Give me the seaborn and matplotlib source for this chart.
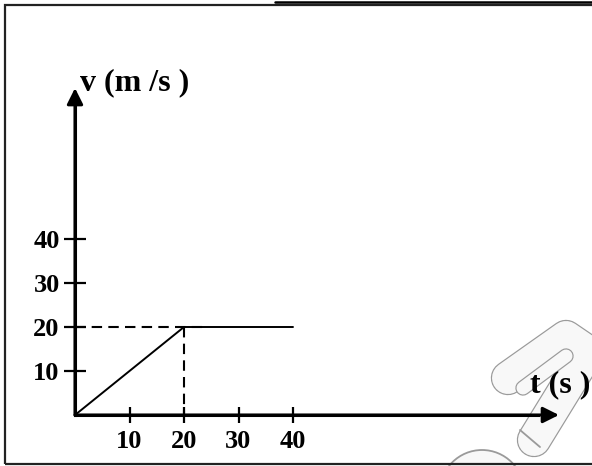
import numpy as np
import pandas as pd
import matplotlib
import matplotlib.pyplot as plt
import seaborn as sns
from matplotlib.lines import Line2D
from matplotlib.patches import Rectangle, Circle

matplotlib.use('agg')

# velocity-time data
t_vals = [0, 20, 40]
v_vals = [0, 20, 20]
x_ticks = [10, 20, 30, 40]
y_ticks = [10, 20, 30, 40]
x_tick_labels = ['10', '20', '30', '40']
y_tick_labels = ['10', '20', '30', '40']
x_label = 't (s )'
y_label = 'v (m /s )'

W, H = 592, 466
sns.set_style('white')
plt.rcParams['font.family'] = ['Liberation Serif', 'DejaVu Serif']
plt.rcParams['font.weight'] = 'bold'
plt.rcParams['text.color'] = 'black'
plt.rcParams['xtick.color'] = 'black'
plt.rcParams['ytick.color'] = 'black'

fig = plt.figure(figsize=(W / 100, H / 100), dpi=100)
ax = fig.add_axes([0, 0, 1, 1])
ax.patch.set_alpha(0)
ax.set_zorder(3)

# pixel scale of the drawing: origin at (75, 415)
sx, sy = 5.45, 4.4
ax.set_xlim(-75 / sx, (W - 75) / sx)
ax.set_ylim(-(H - 415) / sy, 415 / sy)

# pixel coords (from top-left) for decorations
pix = fig.dpi_scale_trans


def pt(x, y):
    return x / 100, (H - y) / 100


def stroke(path, width, z, edge='#9a9a9a', fill='#f8f8f8'):
    xs = [pt(*p)[0] for p in path]
    ys = [pt(*p)[1] for p in path]
    fig.add_artist(Line2D(xs, ys, transform=pix, lw=(width + 2.4) * 0.72, color=edge,
                          solid_capstyle='round', solid_joinstyle='round', zorder=z))
    fig.add_artist(Line2D(xs, ys, transform=pix, lw=width * 0.72, color=fill,
                          solid_capstyle='round', solid_joinstyle='round', zorder=z + 0.05))


# faint watermark (key shape) in the corner
fig.add_artist(Circle(pt(482, 492), 0.42, transform=pix, facecolor='#f8f8f8',
                      edgecolor='#9a9a9a', lw=1.3, zorder=0.1))
stroke([(508, 378), (566, 337), (588, 352), (534, 440)], 32, 0.2)
stroke([(523, 388), (566, 356)], 13, 0.4)
fig.add_artist(Line2D([pt(520, 430)[0], pt(540, 447)[0]], [pt(520, 430)[1], pt(540, 447)[1]],
                      transform=pix, lw=1.3, color='#9a9a9a', zorder=0.5))

# frame
fig.add_artist(Rectangle(pt(5, 464), 6.0, (464 - 5) / 100, transform=pix,
                         fill=False, lw=1.6, edgecolor='#222222', zorder=1))
fig.add_artist(Line2D([2.75, 6.0], [pt(0, 1.8)[1]] * 2, transform=pix,
                      lw=1.8, color='black', zorder=1))

# data line
df = pd.DataFrame({'t': t_vals, 'v': v_vals})
sns.lineplot(data=df, x='t', y='v', ax=ax, color='black', lw=1.4, zorder=3)

# dashed guides
ax.plot([0, t_vals[1] + 3.5], [v_vals[1], v_vals[1]], color='black', lw=1.5,
        ls=(0, (5, 3)), zorder=3)
ax.plot([t_vals[1], t_vals[1]], [v_vals[1], -0.5], color='black', lw=1.5,
        ls=(0, (5, 3)), zorder=3)

# axes through the origin with arrows
for s in ['top', 'right']:
    ax.spines[s].set_visible(False)
ax.spines['left'].set_position(('data', 0))
ax.spines['bottom'].set_position(('data', 0))
ax.spines['left'].set_bounds(0, 70)
ax.spines['bottom'].set_bounds(0, 85)
for s in ['left', 'bottom']:
    ax.spines[s].set_linewidth(2.2)
    ax.spines[s].set_color('black')
ax.annotate('', xy=(88.8, 0), xytext=(0, 0),
            arrowprops=dict(arrowstyle='-|>', lw=2.2, color='black', mutation_scale=24,
                            shrinkA=0, shrinkB=0), zorder=4)
ax.annotate('', xy=(0, 74.3), xytext=(0, 0),
            arrowprops=dict(arrowstyle='-|>', lw=2.2, color='black', mutation_scale=24,
                            shrinkA=0, shrinkB=0), zorder=4)

ax.set_xticks(x_ticks)
ax.set_xticklabels(x_tick_labels)
ax.set_yticks(y_ticks)
ax.set_yticklabels(y_tick_labels)
ax.tick_params(axis='x', direction='inout', length=12, width=1.6, pad=5, labelsize=19)
ax.tick_params(axis='y', direction='inout', length=16, width=1.6, pad=3, labelsize=19)
ax.tick_params(left=True, bottom=True)
for lab in ax.get_xticklabels() + ax.get_yticklabels():
    lab.set_fontweight('bold')
ax.set_xlabel('')
ax.set_ylabel('')

ax.text(0.9, 75.5, y_label, fontsize=23, fontweight='bold', ha='left', va='center', zorder=5)
ax.text(83.5, 6.8, x_label, fontsize=23, fontweight='bold', ha='left', va='center', zorder=5)

fig.savefig('out.png', dpi=100)
plt.close()
